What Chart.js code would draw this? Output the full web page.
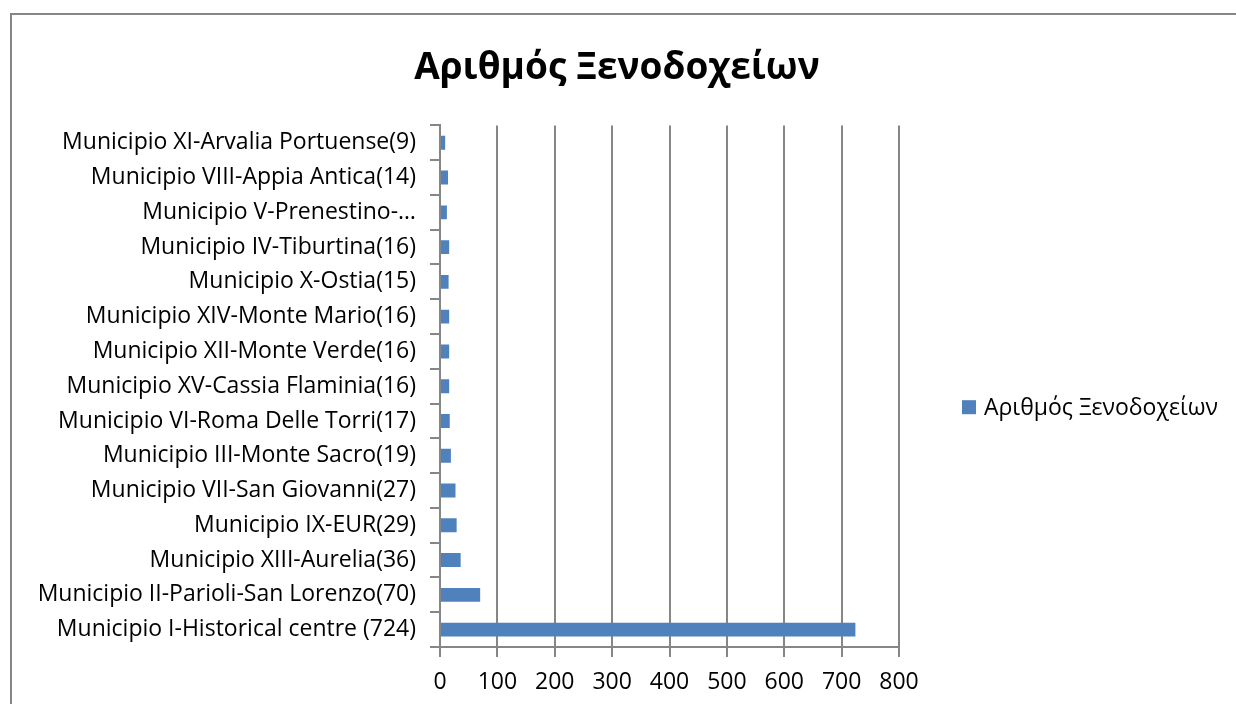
<!DOCTYPE html>
<html>
<head>
<meta charset="utf-8">
<script src="https://cdn.jsdelivr.net/npm/chart.js@4.4.1/dist/chart.umd.min.js"></script>
<style>
  html, body { margin: 0; padding: 0; background: #fff; overflow: hidden; }
  #frame {
    position: absolute; left: 10px; top: 13px;
    width: 1250px; height: 730px;
    border: 2px solid #868686; box-sizing: border-box;
  }
</style>
</head>
<body>
<div id="frame"><canvas id="chart"></canvas></div>
<script>
// top to bottom, as in the picture
const municipios = [
  "Municipio XI-Arvalia Portuense(9)",
  "Municipio VIII-Appia Antica(14)",
  "Municipio V-Prenestino-…",
  "Municipio IV-Tiburtina(16)",
  "Municipio X-Ostia(15)",
  "Municipio XIV-Monte Mario(16)",
  "Municipio XII-Monte Verde(16)",
  "Municipio XV-Cassia Flaminia(16)",
  "Municipio VI-Roma Delle Torri(17)",
  "Municipio III-Monte Sacro(19)",
  "Municipio VII-San Giovanni(27)",
  "Municipio IX-EUR(29)",
  "Municipio XIII-Aurelia(36)",
  "Municipio II-Parioli-San Lorenzo(70)",
  "Municipio I-Historical centre (724)",
];
const hotels = [9, 14, 12, 16, 15, 16, 16, 16, 17, 19, 27, 29, 36, 70, 724];
const seriesName = "Αριθμός Ξενοδοχείων";

const font = "'Open Sans', 'Noto Sans', sans-serif";
const axisGray = "#868686";
const barBlue = "#4f81bd";

const canvas = document.getElementById("chart");
canvas.width = 1236;
canvas.height = 682;

// legend on the right, drawn next to the plot
const sideLegend = {
  id: "sideLegend",
  afterDraw(chart) {
    const { ctx, chartArea } = chart;
    const x = chartArea.right + 63;
    const y = (chartArea.top + chart.height) / 2 - 4;
    ctx.save();
    ctx.fillStyle = barBlue;
    ctx.fillRect(x, y - 7, 14, 14);
    ctx.fillStyle = "#000";
    ctx.font = "23px " + font;
    ctx.textBaseline = "middle";
    ctx.fillText(seriesName, x + 22, y + 1);
    ctx.restore();
  },
};

new Chart(canvas, {
  type: "bar",
  data: {
    labels: municipios,
    datasets: [
      {
        label: seriesName,
        data: hotels,
        backgroundColor: barBlue,
        borderWidth: 0,
        barPercentage: 0.8,
        categoryPercentage: 0.5,
      },
    ],
  },
  options: {
    indexAxis: "y",
    responsive: false,
    animation: false,
    layout: { padding: { top: 0, right: 26, left: 0, bottom: 0 } },
    scales: {
      x: {
        min: 0,
        max: 800,
        afterFit: (scale) => { scale.height = 50; },
        ticks: {
          stepSize: 100,
          color: "#000",
          font: { family: font, size: 23 },
          padding: 12,
          maxRotation: 0,
        },
        grid: { color: axisGray, lineWidth: 2, tickLength: 10 },
        border: { color: axisGray, width: 2 },
      },
      y: {
        afterFit: (scale) => { scale.width = 428; },
        ticks: {
          color: "#000",
          font: { family: font, size: 23 },
          padding: 14,
          autoSkip: false,
        },
        grid: {
          drawOnChartArea: false,
          color: axisGray,
          lineWidth: 2,
          tickLength: 10,
        },
        border: { color: axisGray, width: 2 },
      },
      // empty space on the right for the legend
      legendSpace: {
        type: "category",
        position: "right",
        afterFit: (scale) => { scale.width = 323; },
        ticks: { display: false },
        grid: { display: false },
        border: { display: false },
      },
    },
    plugins: {
      title: {
        display: true,
        text: seriesName,
        color: "#000",
        font: { family: font, size: 37, weight: "bold" },
        padding: { top: 31, bottom: 35 },
      },
      legend: { display: false },
      tooltip: { enabled: false },
    },
  },
  plugins: [sideLegend],
});
</script>
</body>
</html>
